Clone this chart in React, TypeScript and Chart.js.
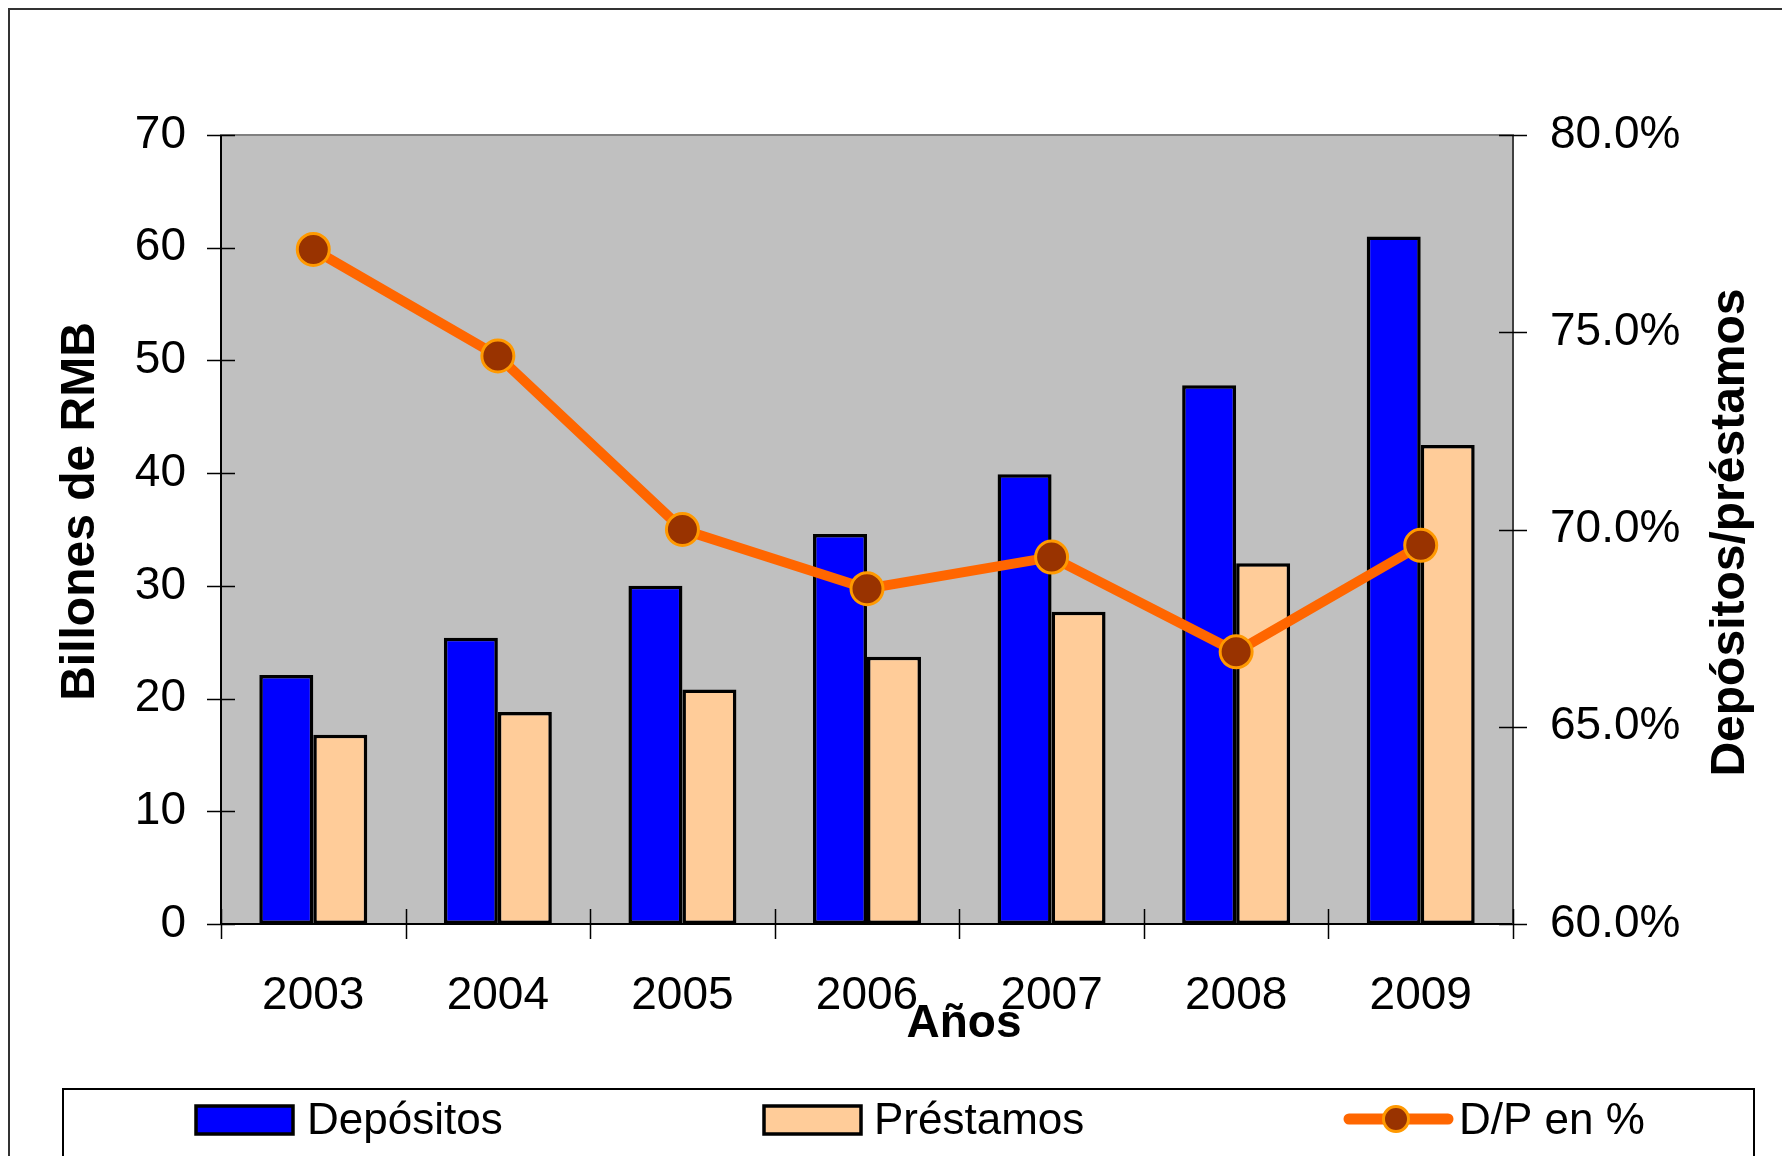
import React, { useEffect, useRef } from "react";
import { Chart, registerables } from "chart.js";

Chart.register(...registerables);

// ---- Data ----
const years = ["2003", "2004", "2005", "2006", "2007", "2008", "2009"];
const depositos = [22.1, 25.4, 30.0, 34.6, 39.9, 47.8, 61.0];
const prestamos = [16.8, 18.8, 20.8, 23.7, 27.7, 32.0, 42.5];
const ratioDP = [77.1, 74.4, 70.0, 68.5, 69.3, 66.9, 69.6];
const seriesLabels = ["Depósitos", "Préstamos", "D/P en %"];
const leftAxisTitle = "Billones de RMB";
const rightAxisTitle = "Depósitos/préstamos";
const xAxisTitle = "Años";

const FONT = "'Liberation Sans', Arial, Helvetica, sans-serif";
const W = 1782;
const H = 1148;

const decor = {
  id: "decor",
  beforeDraw(chart: any) {
    const { ctx, chartArea: a } = chart;
    ctx.save();
    ctx.fillStyle = "#ffffff";
    ctx.fillRect(0, 0, chart.width, chart.height);
    ctx.fillStyle = "#C0C0C0";
    ctx.fillRect(a.left, a.top, a.right - a.left, a.bottom - a.top);
    // outer frame
    ctx.strokeStyle = "#333333";
    ctx.lineWidth = 2;
    ctx.strokeRect(1, 1, chart.width + 20, chart.height + 20);
    ctx.restore();
  },
  beforeDatasetsDraw(chart: any) {
    const { ctx, chartArea: a, scales } = chart;
    ctx.save();
    // plot frame
    ctx.strokeStyle = "#808080";
    ctx.lineWidth = 2;
    ctx.strokeRect(a.left, a.top, a.right - a.left, a.bottom - a.top);
    // axes lines
    ctx.strokeStyle = "#000000";
    ctx.lineWidth = 2;
    ctx.beginPath();
    ctx.moveTo(a.left, a.top);
    ctx.lineTo(a.left, a.bottom);
    ctx.lineTo(a.right, a.bottom);
    ctx.stroke();
    ctx.strokeStyle = "#404040";
    ctx.beginPath();
    ctx.moveTo(a.right, a.top);
    ctx.lineTo(a.right, a.bottom);
    ctx.stroke();
    // tick marks
    ctx.lineWidth = 1.5;
    ctx.strokeStyle = "#000000";
    ctx.beginPath();
    scales.y.ticks.forEach((t: any) => {
      const py = Math.round(scales.y.getPixelForValue(t.value)) + 0.5;
      ctx.moveTo(a.left - 14, py);
      ctx.lineTo(a.left + 14, py);
    });
    scales.y1.ticks.forEach((t: any) => {
      const py = Math.round(scales.y1.getPixelForValue(t.value)) + 0.5;
      ctx.moveTo(a.right - 14, py);
      ctx.lineTo(a.right + 14, py);
    });
    for (let i = 0; i <= years.length; i++) {
      const px = Math.round(scales.x.getPixelForValue(i - 0.5)) + 0.5;
      ctx.moveTo(px, a.bottom - 15);
      ctx.lineTo(px, a.bottom + 15);
    }
    ctx.stroke();
    ctx.restore();
  },
  afterDraw(chart: any) {
    const { ctx, chartArea: a } = chart;
    const ds = chart.data.datasets;
    ctx.save();
    ctx.fillStyle = "#000000";
    // axis titles
    ctx.font = `bold 48px ${FONT}`;
    ctx.textAlign = "center";
    ctx.textBaseline = "middle";
    ctx.save();
    ctx.translate(73, (a.top + a.bottom) / 2 - 18);
    ctx.rotate(-Math.PI / 2);
    ctx.fillText(leftAxisTitle, 0, 0);
    ctx.restore();
    ctx.save();
    ctx.translate(a.right + 218, (a.top + a.bottom) / 2 + 3);
    ctx.rotate(-Math.PI / 2);
    ctx.fillText(rightAxisTitle, 0, 0);
    ctx.restore();
    ctx.font = `bold 46px ${FONT}`;
    ctx.textBaseline = "alphabetic";
    ctx.fillText(xAxisTitle, (a.left + a.right) / 2 + 97, 1029);

    // legend box
    ctx.strokeStyle = "#000000";
    ctx.lineWidth = 2;
    ctx.strokeRect(55, 1081, 1746 - 55, 200);

    const cy = 1112;
    ctx.font = `44px ${FONT}`;
    ctx.textAlign = "left";
    ctx.textBaseline = "alphabetic";
    const swatch = (x: number, color: string) => {
      ctx.fillStyle = color;
      ctx.fillRect(x, cy - 14, 97, 28);
      ctx.strokeStyle = "#000";
      ctx.lineWidth = 3.5;
      ctx.strokeRect(x, cy - 14, 97, 28);
    };
    swatch(188, ds[0].backgroundColor);
    ctx.fillStyle = "#000";
    ctx.fillText(ds[0].label, 299, 1126);
    swatch(756, ds[1].backgroundColor);
    ctx.fillStyle = "#000";
    ctx.fillText(ds[1].label, 866, 1126);
    // line sample
    ctx.strokeStyle = ds[2].borderColor;
    ctx.lineWidth = 11;
    ctx.lineCap = "round";
    ctx.beginPath();
    ctx.moveTo(1341, 1111);
    ctx.lineTo(1440, 1111);
    ctx.stroke();
    ctx.beginPath();
    ctx.arc(1388, 1111, 12.5, 0, Math.PI * 2);
    ctx.fillStyle = ds[2].pointBackgroundColor;
    ctx.fill();
    ctx.lineWidth = 3;
    ctx.strokeStyle = ds[2].pointBorderColor;
    ctx.stroke();
    ctx.fillStyle = "#000";
    ctx.fillText(ds[2].label, 1451, 1126);
    ctx.restore();
  },
};

export default function App() {
  const ref = useRef<HTMLCanvasElement | null>(null);

  useEffect(() => {
    if (!ref.current) return;
    const tickFont = { family: FONT, size: 46 };
    const chart = new Chart(ref.current, {
      type: "bar",
      data: {
        labels: years,
        datasets: [
          {
            type: "bar",
            label: seriesLabels[0],
            data: depositos,
            yAxisID: "y",
            backgroundColor: "#0000FF",
            borderColor: "#000000",
            borderWidth: 3.5,
            borderSkipped: false,
            barPercentage: 1,
            categoryPercentage: 0.585,
            order: 1,
          },
          {
            type: "bar",
            label: seriesLabels[1],
            data: prestamos,
            yAxisID: "y",
            backgroundColor: "#FFCC99",
            borderColor: "#000000",
            borderWidth: 3.5,
            borderSkipped: false,
            barPercentage: 1,
            categoryPercentage: 0.585,
            order: 1,
          },
          {
            type: "line",
            label: seriesLabels[2],
            data: ratioDP,
            yAxisID: "y1",
            borderColor: "#FF6600",
            borderWidth: 10,
            pointRadius: 16,
            pointHoverRadius: 16,
            pointBackgroundColor: "#993300",
            pointBorderColor: "#FF9900",
            pointBorderWidth: 3,
            tension: 0,
            order: 0,
          } as any,
        ],
      },
      options: {
        responsive: false,
        devicePixelRatio: 1,
        animation: false,
        layout: { padding: { top: 127, left: 0, right: 0, bottom: 0 } },
        plugins: {
          legend: { display: false },
          tooltip: { enabled: false },
          title: { display: false },
        },
        scales: {
          x: {
            type: "category",
            offset: true,
            grid: { display: false, drawTicks: false },
            border: { display: false },
            ticks: {
              font: tickFont,
              color: "#000",
              padding: 45,
              maxRotation: 0,
              autoSkip: false,
            },
            afterFit(s: any) {
              s.height = 232;
            },
          },
          y: {
            position: "left",
            min: 0,
            max: 70,
            grid: { display: false, drawTicks: false },
            border: { display: false },
            ticks: { stepSize: 10, font: tickFont, color: "#000", padding: 35 },
            afterFit(s: any) {
              s.width = 213;
            },
          },
          y1: {
            position: "right",
            min: 60,
            max: 80,
            grid: { display: false, drawTicks: false },
            border: { display: false },
            ticks: {
              stepSize: 5,
              font: tickFont,
              color: "#000",
              padding: 37,
              callback: (v: any) => Number(v).toFixed(1) + "%",
            },
            afterFit(s: any) {
              s.width = 277;
            },
          },
        },
      } as any,
      plugins: [decor],
    });
    return () => chart.destroy();
  }, []);

  return (
    <div style={{ width: W, height: H }}>
      <canvas
        ref={ref}
        width={W}
        height={H}
        style={{ display: "block", width: W, height: H }}
      />
    </div>
  );
}
